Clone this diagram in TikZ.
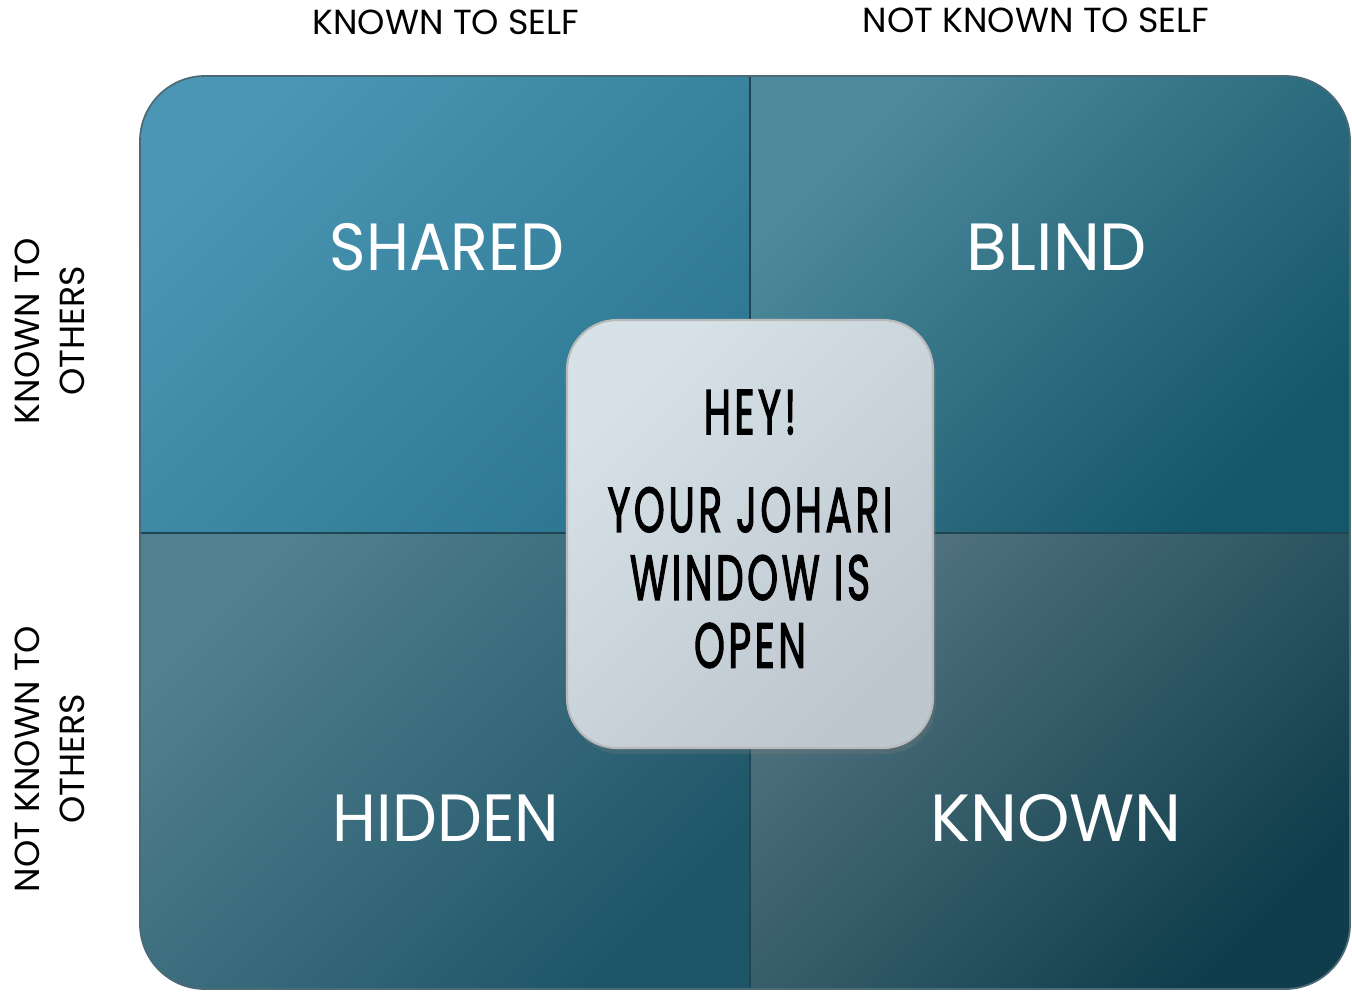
\documentclass[tikz,border=0pt]{standalone}
\usepackage{fontspec}
\setmainfont{Poppins}
\newfontfamily\cardfont{Poppins}[FakeBold=2.5, LetterSpace=9.0]
\usetikzlibrary{shadows}
\definecolor{sharedA}{HTML}{4A96B4}
\definecolor{sharedB}{HTML}{2C7690}
\definecolor{blindA}{HTML}{4D8A9C}
\definecolor{blindB}{HTML}{14566A}
\definecolor{hiddenA}{HTML}{52808F}
\definecolor{hiddenB}{HTML}{1E5568}
\definecolor{knownA}{HTML}{527480}
\definecolor{knownB}{HTML}{0F3D4B}
\definecolor{divline}{HTML}{1F4553}
\definecolor{msgA}{HTML}{D6E2E8}
\definecolor{msgB}{HTML}{BEC6CE}

\tikzset{
  quad/.style 2 args={top color=#1, bottom color=#2, shading angle=45},
  sidelbl/.style={font=\fontsize{9.9}{12.8}\selectfont, align=center},
  quadlbl/.style={text=white, font=\fontsize{19}{20}\selectfont},
}

\begin{document}
\begin{tikzpicture}
\useasboundingbox (0,0) rectangle (13.52,9.92);
% the four panes, clipped to the outer rounded frame
\begin{scope}
\clip[rounded corners=6.5mm] (1.40,0.03) rectangle (13.50,9.16);
\shade[quad={sharedA}{sharedB}] (1.40,4.59) rectangle (7.50,9.16);
\shade[quad={blindA}{blindB}] (7.50,4.59) rectangle (13.50,9.16);
\shade[quad={hiddenA}{hiddenB}] (1.40,0.03) rectangle (7.50,4.59);
\shade[quad={knownA}{knownB}] (7.50,0.03) rectangle (13.50,4.59);
\draw[divline, line width=0.6pt] (7.50,0.03) -- (7.50,9.16);
\draw[divline, line width=0.6pt] (1.40,4.59) -- (13.50,4.59);
\end{scope}
\draw[divline!80, line width=0.5pt, rounded corners=6.5mm] (1.40,0.03) rectangle (13.50,9.16);
% axis labels
\node[sidelbl] (self) at (4.46,9.70) {KNOWN TO SELF};
\node[sidelbl] (notself) at (10.36,9.72) {NOT KNOWN TO SELF};
\node[sidelbl, rotate=90] (others) at (0.50,6.61) {KNOWN TO\\OTHERS};
\node[sidelbl, rotate=90] (notothers) at (0.50,2.33) {NOT KNOWN TO\\OTHERS};
% pane names
\node[quadlbl, xscale=0.93, transform shape] (shared) at (4.47,7.45) {SHARED};
\node[quadlbl] (blind) at (10.57,7.45) {BLIND};
\node[quadlbl, xscale=0.95, transform shape] (hidden) at (4.46,1.74) {HIDDEN};
\node[quadlbl] (known) at (10.56,1.74) {KNOWN};
% the message card in the middle
\node[draw=gray!55, line width=0.6pt, rounded corners=5mm, minimum width=3.66cm, minimum height=4.28cm,
      top color=msgA, bottom color=msgB, shading angle=45,
      drop shadow={opacity=0.25, shadow xshift=0.3mm, shadow yshift=-0.6mm}] (card) at (7.50,4.58) {};
\node[align=center, xscale=0.62, transform shape, font=\fontsize{18}{19.3}\selectfont\cardfont] (msg) at ([yshift=0.5mm]card.center)
  {HEY!\\[8.5pt]YOUR JOHARI\\WINDOW IS\\OPEN};
\end{tikzpicture}
\end{document}
